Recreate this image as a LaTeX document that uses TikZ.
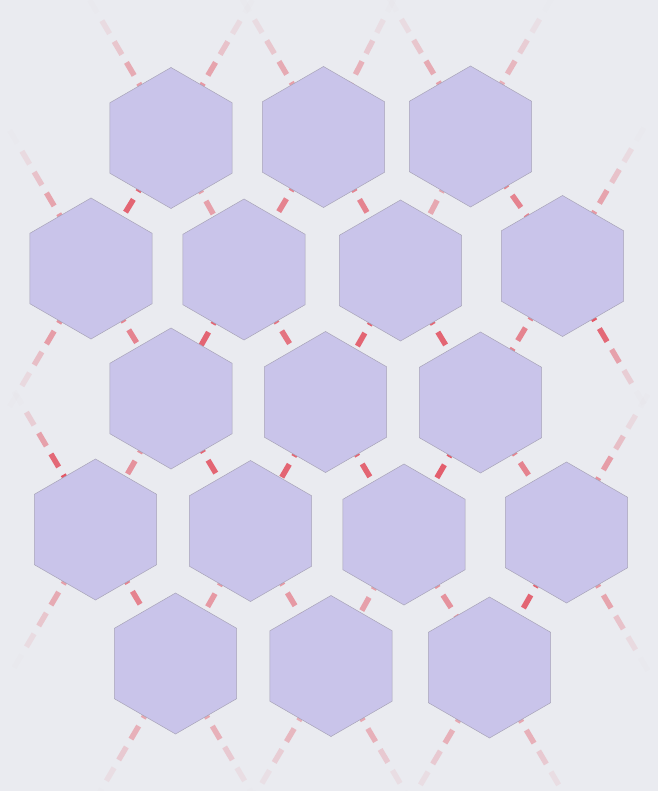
\documentclass[tikz,border=0pt]{standalone}
\usepackage{tikz}
\usetikzlibrary{shapes.geometric,calc}
\definecolor{PageGray}{HTML}{EAEBF0}
\definecolor{CellLilac}{HTML}{C9C4EA}
\definecolor{CellEdge}{HTML}{A8A4B8}
\definecolor{LinkRed}{HTML}{E35766}
\pgfdeclarelayer{links}
\pgfsetlayers{links,main}

\begin{document}
\begin{tikzpicture}[x=1pt,y=-1pt,
  cell/.style={regular polygon, regular polygon sides=6, shape border rotate=30,
    minimum size=141pt, inner sep=0pt, fill=CellLilac, draw=CellEdge, line width=0.5pt},
  link/.style={draw=LinkRed, line width=5.5pt, dash pattern=on 15pt off 9pt},
  tail/.style={draw=LinkRed, line width=5.5pt}]
  \useasboundingbox (0,0) rectangle (658,791);
  \clip (0,0) rectangle (658,791);
  \node[cell] (h1) at (171,138) {};
  \node[cell] (h2) at (323.5,137) {};
  \node[cell] (h3) at (470.5,136.5) {};
  \node[cell] (h4) at (91,268.5) {};
  \node[cell] (h5) at (244,269.5) {};
  \node[cell] (h6) at (400.5,270.5) {};
  \node[cell] (h7) at (562.5,266) {};
  \node[cell] (h8) at (171,398.5) {};
  \node[cell] (h9) at (325.5,402) {};
  \node[cell] (h10) at (480.5,402.5) {};
  \node[cell] (h11) at (95.5,529.5) {};
  \node[cell] (h12) at (250.5,531) {};
  \node[cell] (h13) at (404,534.5) {};
  \node[cell] (h14) at (566.5,532.5) {};
  \node[cell] (h15) at (175.5,663.5) {};
  \node[cell] (h16) at (331,666) {};
  \node[cell] (h17) at (489.5,667.5) {};
  \coordinate (o1) at (85,-8);
  \coordinate (o2) at (257,-8);
  \coordinate (o3) at (237.5,-9);
  \coordinate (o4) at (398,-9);
  \coordinate (o5) at (384.5,-9.5);
  \coordinate (o6) at (556.5,-9.5);
  \coordinate (o7) at (5,122.5);
  \coordinate (o8) at (5,414.5);
  \coordinate (o9) at (648.5,120);
  \coordinate (o10) at (648.5,412);
  \coordinate (o11) at (9.5,383.5);
  \coordinate (o12) at (9.5,675.5);
  \coordinate (o13) at (652.5,386.5);
  \coordinate (o14) at (652.5,678.5);
  \coordinate (o15) at (89.5,809.5);
  \coordinate (o16) at (261.5,809.5);
  \coordinate (o17) at (245,812);
  \coordinate (o18) at (417,812);
  \coordinate (o19) at (403.5,813.5);
  \coordinate (o20) at (575.5,813.5);
  \begin{pgfonlayer}{links}
    \fill[PageGray] (0,0) rectangle (658,791);
    \foreach \a/\b/\w in {h1/h4/0.9, h1/h5/0.5, h2/h5/0.7, h2/h6/0.7, h3/h6/0.45, h3/h7/0.7,
      h4/h8/0.7, h5/h8/0.9, h5/h9/0.8, h6/h9/0.9, h6/h10/0.9, h7/h10/0.7,
      h8/h11/0.6, h8/h12/0.9, h9/h12/0.9, h9/h13/0.9, h10/h13/0.95, h10/h14/0.7,
      h11/h15/0.7, h12/h15/0.55, h12/h16/0.55, h13/h16/0.5, h13/h17/0.6, h14/h17/0.9} {
      \draw[link, opacity=\w] (\a.center) -- (\b.center);
    }
    \foreach \a/\b/\w in {h1/o1/0.5, h1/o2/0.55, h2/o3/0.5, h2/o4/0.45, h3/o5/0.5, h3/o6/0.4,
      h4/o7/0.55, h4/o8/0.6, h7/o9/0.55, h7/o10/1, h11/o11/1, h11/o12/0.5,
      h14/o13/0.6, h14/o14/0.55, h15/o15/0.45, h15/o16/0.45, h16/o17/0.4, h16/o18/0.45,
      h17/o19/0.45, h17/o20/0.45} {
      \foreach \k in {0,...,6} {
        \pgfmathsetmacro\ta{\k*24/168}
        \pgfmathsetmacro\tb{(\k*24+15)/168}
        \pgfmathsetmacro\op{\w*(max(0,min(1,(0.93-(\ta+\tb)/2)/0.5)))^1.5}
        \draw[tail, opacity=\op] ($(\a.center)!\ta!(\b)$) -- ($(\a.center)!\tb!(\b)$);
      }
    }
  \end{pgfonlayer}
\end{tikzpicture}
\end{document}
